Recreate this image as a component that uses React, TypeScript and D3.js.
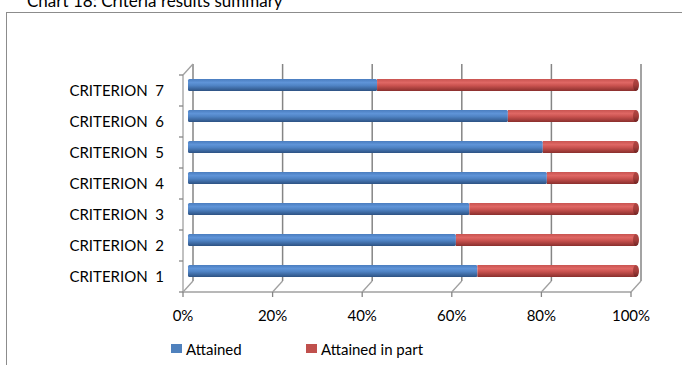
import React from "react";
import * as d3 from "d3";

const categories = ["CRITERION 1", "CRITERION 2", "CRITERION 3", "CRITERION 4", "CRITERION 5", "CRITERION 6", "CRITERION 7"];
const attained = [64.6, 59.8, 62.8, 80.1, 79.2, 71.4, 42.2];
const attainedInPart = attained.map((v) => 100 - v);
const tickValues = [0, 20, 40, 60, 80, 100];
const seriesNames = ["Attained", "Attained in part"];
const title = "Chart 18: Criteria results summary";

const FONT = "Lato, 'Open Sans', sans-serif";
const W = 682, H = 365;
const DX = 10, DY = -11;

export default function App() {
  const xFront = d3.scaleLinear().domain([0, 100]).range([183, 631]);
  const xBack = (v: number) => xFront(v) + DX;
  const xBar = (v: number) => xFront(v) + DX / 2;
  const yFront = d3.scaleBand().domain([...categories].reverse()).range([75, 292]);
  const floorY = 292;
  const bh = 12;

  const bars = categories.map((c, i) => {
    const cy = (yFront(c) as number) + yFront.bandwidth() / 2 + DY / 2;
    return { c, cy, a: attained[i], p: attainedInPart[i] };
  });

  const grid = "#858585";

  return (
    <svg width={W} height={H} style={{ position: "absolute", left: 0, top: 0, background: "#fff" }} fontFamily={FONT}>
      <defs>
        <linearGradient id="gBlue" x1="0" y1="0" x2="0" y2="1">
          <stop offset="0" stopColor="#4a7dbf" />
          <stop offset="0.3" stopColor="#5f94d8" />
          <stop offset="0.55" stopColor="#4f83c4" />
          <stop offset="1" stopColor="#2d5283" />
        </linearGradient>
        <linearGradient id="gRed" x1="0" y1="0" x2="0" y2="1">
          <stop offset="0" stopColor="#c95451" />
          <stop offset="0.3" stopColor="#df6764" />
          <stop offset="0.55" stopColor="#c9524f" />
          <stop offset="1" stopColor="#8a2f2d" />
        </linearGradient>
        <linearGradient id="gCap" x1="0" y1="0" x2="0" y2="1">
          <stop offset="0" stopColor="#b04744" />
          <stop offset="0.5" stopColor="#a53e3b" />
          <stop offset="1" stopColor="#6e2322" />
        </linearGradient>
      </defs>

      {/* title (clipped at top, as in the reference) */}
      <text x={27} y={7} fontSize={17} fill="#000">{title}</text>

      {/* chart border */}
      <rect x={6.5} y={12.5} width={800} height={500} fill="none" stroke="#8c8c8c" strokeWidth={1} />

      {/* back wall gridlines */}
      {tickValues.map((t) => (
        <line key={"g" + t} x1={xBack(t)} x2={xBack(t)} y1={floorY + DY} y2={75 + DY} stroke={grid} strokeWidth={1.5} />
      ))}
      {/* floor diagonals */}
      {tickValues.map((t) => (
        <line key={"f" + t} x1={xFront(t)} y1={floorY} x2={xBack(t)} y2={floorY + DY} stroke="#a0a0a0" strokeWidth={1.3} />
      ))}
      {/* front floor axis */}
      <line x1={xFront(0)} x2={xFront(100)} y1={floorY} y2={floorY} stroke="#a0a0a0" strokeWidth={1.3} />
      {tickValues.map((t) => (
        <line key={"t" + t} x1={xFront(t)} x2={xFront(t)} y1={floorY} y2={floorY + 5} stroke="#858585" strokeWidth={1.3} />
      ))}

      {/* left wall */}
      <line x1={xFront(0)} x2={xFront(0)} y1={75} y2={floorY} stroke="#a0a0a0" strokeWidth={1.3} />
      <line x1={xFront(0)} y1={75} x2={xBack(0)} y2={75 + DY} stroke="#a0a0a0" strokeWidth={1.3} />
      {d3.range(categories.length + 1).map((k) => {
        const y = 75 + k * yFront.step();
        return <line key={"lt" + k} x1={xFront(0) - 4} x2={xFront(0)} y1={y} y2={y} stroke="#858585" strokeWidth={1.3} />;
      })}

      {/* bars */}
      {bars.map((b) => (
        <g key={b.c}>
          <rect x={xBar(0)} y={b.cy - bh / 2} width={xBar(b.a) - xBar(0)} height={bh} fill="url(#gBlue)" rx={1.5} />
          <rect x={xBar(b.a)} y={b.cy - bh / 2} width={xBar(100) - xBar(b.a)} height={bh} fill="url(#gRed)" />
          <ellipse cx={xBar(100)} cy={b.cy} rx={3} ry={bh / 2} fill="url(#gCap)" />
        </g>
      ))}

      {/* category labels */}
      {categories.map((c) => (
        <text key={"l" + c} x={164} y={(yFront(c) as number) + yFront.bandwidth() / 2 + 5} fontSize={15} textAnchor="end" fill="#000">
          {c.replace(" ", "\u00a0\u00a0")}
        </text>
      ))}

      {/* tick labels */}
      {tickValues.map((t) => (
        <text key={"tl" + t} x={xFront(t)} y={321} fontSize={15} textAnchor="middle" fill="#000">{t + "%"}</text>
      ))}

      {/* legend */}
      <rect x={171} y={344} width={11} height={9} fill="#4f81bd" />
      <text x={186} y={355} fontSize={15} fill="#000">{seriesNames[0]}</text>
      <rect x={306} y={344} width={11} height={9} fill="#c0504d" />
      <text x={321} y={355} fontSize={15} fill="#000">{seriesNames[1]}</text>
    </svg>
  );
}
